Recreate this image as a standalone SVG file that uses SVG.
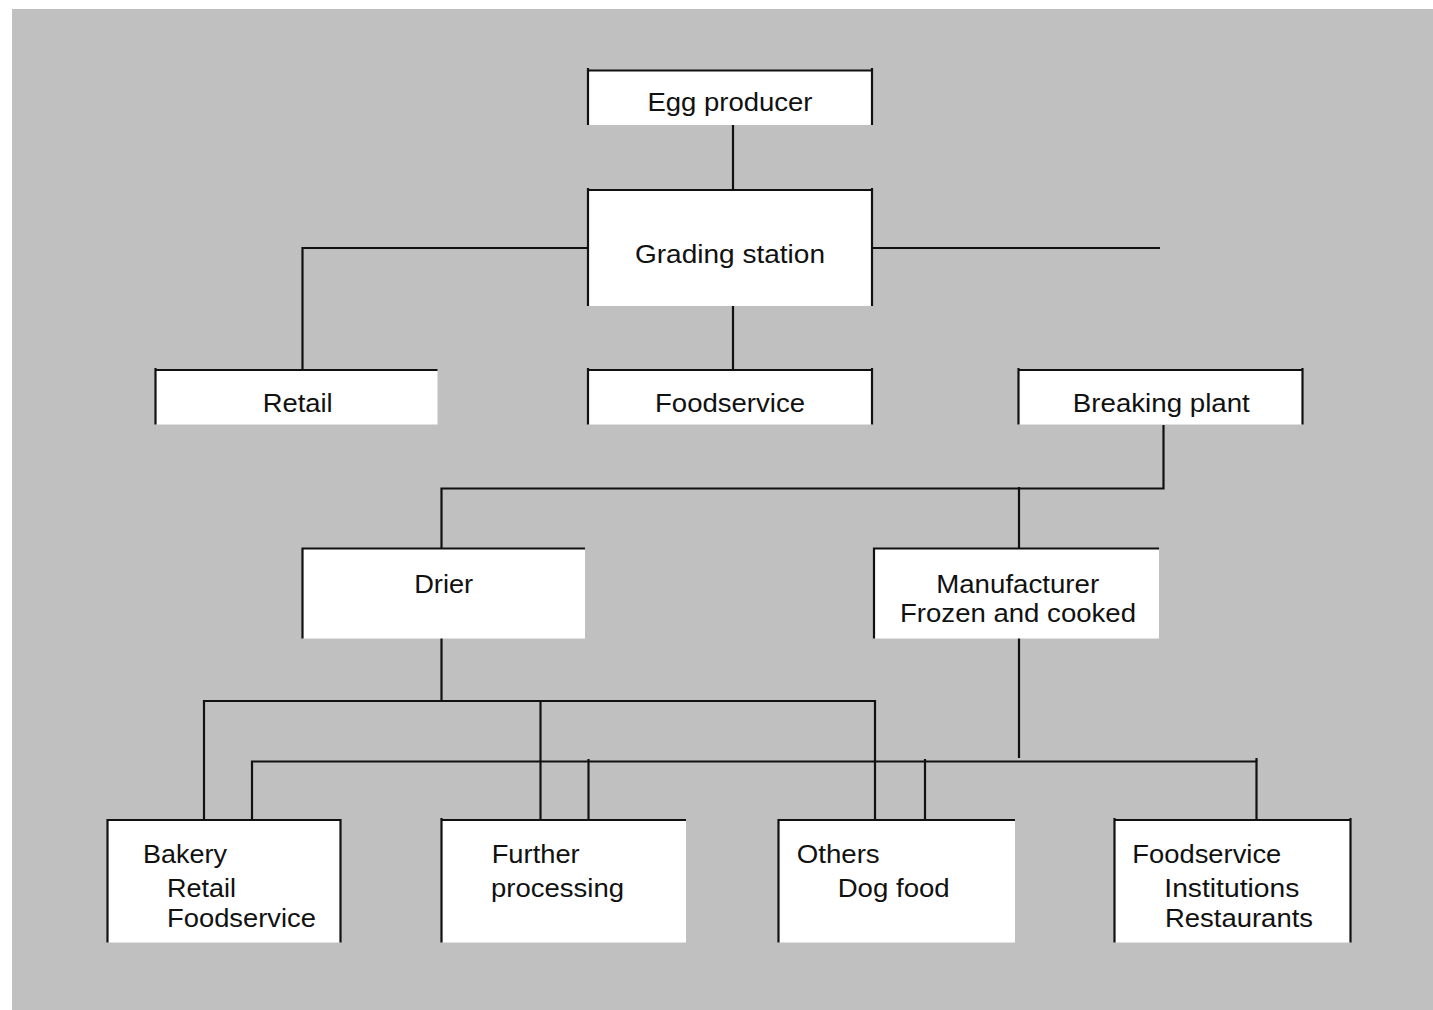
<svg xmlns="http://www.w3.org/2000/svg" width="1433" height="1010" viewBox="0 0 1433 1010">
<style>
.bg{fill:#c0c0c0}
.box{fill:#fff}
.ln{stroke:#111;stroke-width:2.2;fill:none}
.t{font-family:"Liberation Sans",Arial,sans-serif;font-size:25px;fill:#111}
.c{text-anchor:middle}
</style>
<rect class="bg" x="12" y="9" width="1421" height="1001"/>
<g id="connectors" class="ln">
<path d="M733 125V190"/>
<path d="M588 248H302.5V370"/>
<path d="M872 248H1160"/>
<path d="M733 306V370"/>
<path d="M1163.5 425V488.5H441.5V548"/>
<path d="M1019 487V548"/>
<path d="M441.5 638V701"/>
<path d="M204 820V701H875V820"/>
<path d="M540.5 701V820"/>
<path d="M1019 638V758"/>
<path d="M252 820V761.5H1256.5V820"/>
<path d="M588.5 759V820"/>
<path d="M925 759V820"/>
<path d="M1256.5 758V761.5"/>
</g>
<g id="egg-producer">
<rect class="box" x="588" y="70.5" width="284" height="54.5"/>
<path class="ln" d="M588 125V68M588 70.5H872M872 68V125"/>
<text class="t c" x="730" y="111" textLength="165" lengthAdjust="spacingAndGlyphs">Egg producer</text>
</g>
<g id="grading-station">
<rect class="box" x="588" y="190" width="284" height="116"/>
<path class="ln" d="M588 306V188M588 190H872M872 188V306"/>
<text class="t c" x="730" y="263" textLength="190" lengthAdjust="spacingAndGlyphs">Grading station</text>
</g>
<g id="retail">
<rect class="box" x="155.5" y="370" width="282" height="54.5"/>
<path class="ln" d="M155.5 424.5V368M155.5 370H437.5"/>
<text class="t c" x="297.7" y="412" textLength="70" lengthAdjust="spacingAndGlyphs">Retail</text>
</g>
<g id="foodservice-1">
<rect class="box" x="588" y="370" width="284" height="54.5"/>
<path class="ln" d="M588 424.5V368M588 370H872M872 368V424.5"/>
<text class="t c" x="730" y="412" textLength="150" lengthAdjust="spacingAndGlyphs">Foodservice</text>
</g>
<g id="breaking-plant">
<rect class="box" x="1018.5" y="370" width="284" height="54.5"/>
<path class="ln" d="M1018.5 424.5V368M1018.5 370H1302.5M1302.5 368V424.5"/>
<text class="t c" x="1161.3" y="412" textLength="177" lengthAdjust="spacingAndGlyphs">Breaking plant</text>
</g>
<g id="drier">
<rect class="box" x="302.5" y="548.5" width="282.5" height="90"/>
<path class="ln" d="M302.5 638.5V548.5H585"/>
<text class="t c" x="443.7" y="593" textLength="59" lengthAdjust="spacingAndGlyphs">Drier</text>
</g>
<g id="manufacturer">
<rect class="box" x="874" y="548.5" width="285" height="90"/>
<path class="ln" d="M874 638.5V548.5H1159"/>
<text class="t c" x="1017.7" y="592.5" textLength="163" lengthAdjust="spacingAndGlyphs">Manufacturer</text>
<text class="t c" x="1018" y="622" textLength="236" lengthAdjust="spacingAndGlyphs">Frozen and cooked</text>
</g>
<g id="bakery">
<rect class="box" x="107.5" y="820" width="233" height="122.5"/>
<path class="ln" d="M107.5 942.5V820H340.5V942.5"/>
<text class="t" x="143" y="863" textLength="84" lengthAdjust="spacingAndGlyphs">Bakery</text>
<text class="t" x="167" y="897" textLength="69" lengthAdjust="spacingAndGlyphs">Retail</text>
<text class="t" x="167" y="927" textLength="149" lengthAdjust="spacingAndGlyphs">Foodservice</text>
</g>
<g id="further-processing">
<rect class="box" x="441.5" y="820" width="244.5" height="122.5"/>
<path class="ln" d="M441.5 942.5V818M441.5 820H686"/>
<text class="t" x="491.7" y="863" textLength="88" lengthAdjust="spacingAndGlyphs">Further</text>
<text class="t" x="491" y="897" textLength="133" lengthAdjust="spacingAndGlyphs">processing</text>
</g>
<g id="others">
<rect class="box" x="778.5" y="820" width="236.5" height="122.5"/>
<path class="ln" d="M778.5 942.5V820H1015"/>
<text class="t" x="796.7" y="863" textLength="83" lengthAdjust="spacingAndGlyphs">Others</text>
<text class="t" x="837.7" y="897" textLength="112" lengthAdjust="spacingAndGlyphs">Dog food</text>
</g>
<g id="foodservice-2">
<rect class="box" x="1114.5" y="820" width="236" height="122.5"/>
<path class="ln" d="M1114.5 942.5V818M1114.5 820H1350.5M1350.5 818V942.5"/>
<text class="t" x="1132.3" y="863" textLength="149" lengthAdjust="spacingAndGlyphs">Foodservice</text>
<text class="t" x="1164.3" y="897" textLength="135" lengthAdjust="spacingAndGlyphs">Institutions</text>
<text class="t" x="1165" y="927" textLength="148" lengthAdjust="spacingAndGlyphs">Restaurants</text>
</g>
</svg>
